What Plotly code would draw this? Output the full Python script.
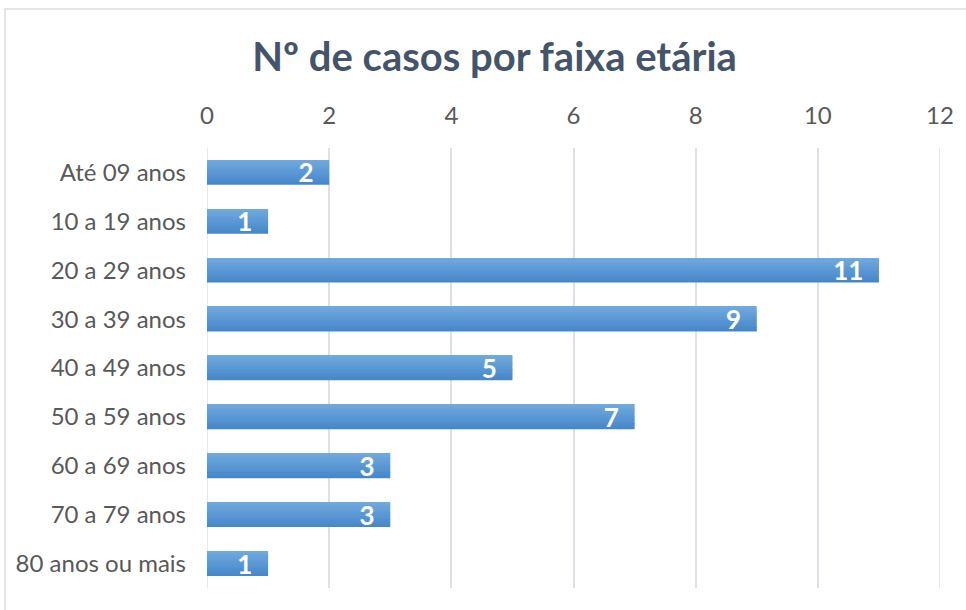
import plotly.graph_objects as go

categories = ["Até 09 anos", "10 a 19 anos", "20 a 29 anos", "30 a 39 anos", "40 a 49 anos",
              "50 a 59 anos", "60 a 69 anos", "70 a 79 anos", "80 anos ou mais"]
values = [2, 1, 11, 9, 5, 7, 3, 3, 1]
x_ticks = [0, 2, 4, 6, 8, 10, 12]
title_text = "Nº de casos por faixa etária"

W, H = 966, 610
L, R, T, B = 207, 26, 148, 22
pw, ph = W - L - R, H - T - B

FONT = "Lato"
BAR_W = 0.5
N_SLICES = 14
top_rgb = (0x70, 0xA9, 0xDE)
bot_rgb = (0x47, 0x88, 0xCA)
GRID = "#DCE1E8"

fig = go.Figure()
# gradient bars (top lighter -> bottom darker), built from thin slices
for i in range(N_SLICES):
    t = i / (N_SLICES - 1)
    c = tuple(round(top_rgb[k] + (bot_rgb[k] - top_rgb[k]) * t) for k in range(3))
    w = BAR_W / N_SLICES
    fig.add_trace(go.Bar(
        y=categories, x=values, orientation="h",
        width=w * 1.08, offset=-BAR_W / 2 + i * w,
        marker=dict(color=f"rgb{c}", line=dict(width=0)),
        hoverinfo="skip",
    ))
# label trace
fig.add_trace(go.Bar(
    y=categories, x=values, orientation="h", width=BAR_W,
    marker=dict(color="rgba(0,0,0,0)", line=dict(width=0)),
    text=[f"{v}\u00a0\u00a0" for v in values],
    textposition="inside", insidetextanchor="end", constraintext="none", textangle=0,
    textfont=dict(family=FONT, size=26, color="white", weight="bold"),
    cliponaxis=False,
))

edge_lines = [dict(type="line", xref="x", yref="paper", x0=v, x1=v, y0=0, y1=1,
                   line=dict(color=GRID, width=1.5), layer="below")
              for v in (x_ticks[0], x_ticks[-1])]

fig.update_layout(
    width=W, height=H,
    margin=dict(l=L, r=R, t=T, b=B),
    paper_bgcolor="white", plot_bgcolor="white",
    barmode="overlay",
    showlegend=False,
    title=dict(text=f"<b>{title_text}</b>", x=0.512, xanchor="center", y=1 - 57 / H,
               yanchor="middle", yref="container",
               font=dict(family=FONT, size=40, color="#44546A")),
    xaxis=dict(side="top", range=[x_ticks[0], x_ticks[-1]], tickvals=x_ticks, showgrid=True,
               gridcolor=GRID, gridwidth=1.5, zeroline=False, showline=False,
               ticks="", ticklabelstandoff=18, automargin=False,
               tickfont=dict(family=FONT, size=24, color="#595959")),
    yaxis=dict(autorange="reversed", showgrid=False, zeroline=False, showline=False,
               ticks="", ticklabelstandoff=20, automargin=False,
               tickfont=dict(family=FONT, size=24, color="#595959")),
    shapes=[dict(type="rect", xref="paper", yref="paper",
                 x0=(5 - L) / pw, x1=(W + 10 - L) / pw,
                 y0=-(B + 10) / ph, y1=1 + (T - 9) / ph,
                 line=dict(color="#D9DDE3", width=1.5), fillcolor="rgba(0,0,0,0)", layer="below")]
           + edge_lines,
)

fig.write_html("out.html", config={"displayModeBar": False},
               post_script="document.body.style.margin='0px';")
